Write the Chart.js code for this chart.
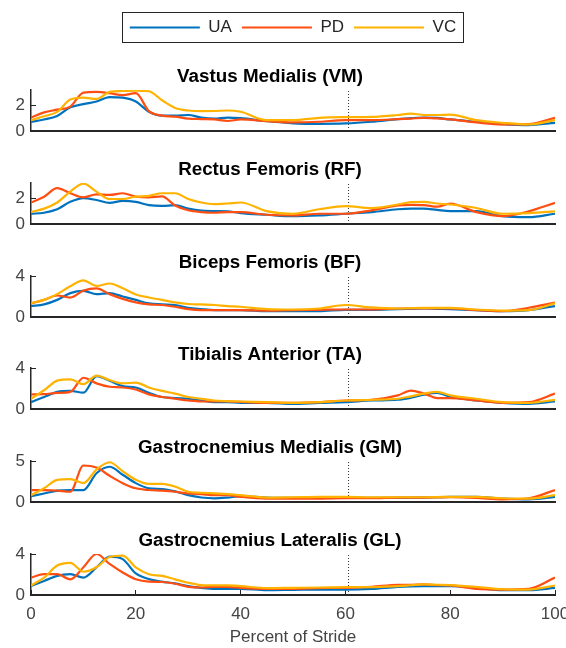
<!DOCTYPE html>
<html>
<head>
<meta charset="utf-8">
<script src="https://cdn.jsdelivr.net/npm/chart.js@4.4.1/dist/chart.umd.min.js"></script>
<style>
    html, body { margin: 0; padding: 0; background: #fff; }
    body { width: 566px; height: 648px; position: relative; overflow: hidden; }
    .box { position: absolute; }
</style>
</head>
<body>
<div class="box" style="left:31px;top:0;width:524px;height:60px"><canvas id="legend"></canvas></div>
<script>
// Percent of stride sample points
const stride = [0, 2.5, 5, 7.5, 10, 12.5, 15, 17.5, 20, 22.5, 25, 27.5, 30, 32.5, 35, 37.5, 40,
                45, 50, 55, 60, 65, 70, 72.5, 75, 77.5, 80, 85, 90, 95, 100];
const series = ['UA', 'PD', 'VC'];
const muscles = ['Vastus Medialis (VM)', 'Rectus Femoris (RF)', 'Biceps Femoris (BF)',
                 'Tibialis Anterior (TA)', 'Gastrocnemius Medialis (GM)', 'Gastrocnemius Lateralis (GL)'];
const yMax = [3.2, 3.2, 4, 4, 5, 4];
const yTicks = [[0, 2], [0, 2], [0, 2, 4], [0, 2, 4], [0, 5], [0, 2, 4]];
const xTicks = [0, 20, 40, 60, 80, 100];
const toeOff = 60.6;

const vmUA = [0.72,0.9,1.18,1.85,2.1,2.3,2.65,2.6,2.3,1.5,1.2,1.2,1.25,1.05,0.97,1.05,1.0,0.77,0.6,0.56,0.59,0.72,0.92,1.0,1.05,1.02,0.9,0.72,0.54,0.46,0.64];
const vmPD = [1.05,1.45,1.67,1.9,3.0,3.05,2.95,2.8,2.95,1.55,1.2,1.12,0.97,0.93,0.9,0.78,0.9,0.77,0.67,0.72,0.85,0.85,0.92,0.97,1.03,0.98,0.9,0.67,0.51,0.54,1.03];
const vmVC = [0.85,1.15,1.49,2.45,2.6,2.5,3.05,3.12,3.15,3.1,2.4,1.8,1.6,1.55,1.56,1.6,1.5,0.85,0.85,1.03,1.08,1.1,1.25,1.36,1.25,1.25,1.28,0.85,0.64,0.51,0.85];

const rfUA = [0.8,0.88,1.15,1.73,2.02,1.87,1.65,1.81,1.73,1.47,1.41,1.47,1.2,1.04,1.01,0.99,0.85,0.72,0.61,0.67,0.8,0.93,1.15,1.2,1.2,1.1,1.01,1.01,0.61,0.53,0.8];
const rfPD = [1.68,2.13,2.8,2.4,2.08,2.32,2.27,2.4,2.13,2.08,2.15,1.45,1.07,0.93,0.88,0.93,0.93,0.72,0.67,0.8,0.8,1.07,1.45,1.5,1.48,1.35,1.6,0.93,0.61,0.99,1.65];
const rfVC = [0.93,1.2,1.68,2.53,3.15,2.53,1.95,1.95,2.13,2.2,2.4,2.4,1.95,1.68,1.55,1.6,1.68,1.0,0.8,1.15,1.39,1.25,1.52,1.7,1.73,1.6,1.52,1.25,0.8,0.85,0.99];

const bfUA = [1.07,1.23,1.67,2.33,2.55,2.23,2.33,2.0,1.67,1.33,1.23,1.17,0.9,0.77,0.67,0.67,0.67,0.57,0.57,0.57,0.7,0.7,0.77,0.8,0.83,0.8,0.77,0.67,0.57,0.67,1.07];
const bfPD = [1.33,1.67,2.1,1.9,2.57,2.8,2.23,1.77,1.43,1.23,1.17,1.0,0.77,0.67,0.67,0.67,0.67,0.63,0.67,0.7,0.73,0.73,0.83,0.83,0.83,0.83,0.83,0.67,0.57,0.9,1.4];
const bfVC = [1.33,1.67,2.23,3.0,3.57,3.03,3.27,2.8,2.2,1.9,1.67,1.43,1.27,1.23,1.17,1.07,1.0,0.77,0.73,0.83,1.17,0.93,0.83,0.87,0.9,0.9,0.9,0.73,0.63,0.67,1.33];

const taUA = [0.67,1.17,1.67,1.77,1.6,3.2,2.75,2.23,2.1,1.57,1.17,1.07,1.0,0.83,0.67,0.67,0.6,0.6,0.5,0.6,0.67,0.83,0.9,1.1,1.4,1.57,1.2,0.83,0.6,0.5,0.73];
const taPD = [1.43,1.45,1.57,1.67,3.05,2.5,2.17,2.1,1.9,1.43,1.17,1.0,0.83,0.73,0.73,0.73,0.7,0.6,0.6,0.67,0.83,0.9,1.33,1.8,1.5,1.07,1.07,0.83,0.6,0.67,1.5];
const taVC = [1.0,1.83,2.77,2.9,2.43,3.25,2.83,2.5,2.57,2.1,1.77,1.5,1.17,1.0,0.83,0.77,0.73,0.67,0.6,0.67,0.83,0.9,1.0,1.23,1.5,1.67,1.33,1.0,0.67,0.6,0.9];

const gmUA = [0.7,1.04,1.38,1.46,1.45,3.5,4.3,3.33,2.3,1.67,1.58,1.3,0.83,0.55,0.45,0.54,0.7,0.54,0.5,0.5,0.54,0.5,0.5,0.52,0.54,0.58,0.63,0.63,0.42,0.33,0.63];
const gmPD = [1.46,1.46,1.38,1.25,4.45,4.2,3.2,2.3,1.67,1.46,1.38,1.25,1.04,0.96,0.83,0.83,0.63,0.42,0.42,0.42,0.46,0.46,0.54,0.54,0.54,0.56,0.58,0.5,0.33,0.46,1.46];
const gmVC = [0.83,1.67,2.7,2.8,2.3,3.96,4.85,3.75,2.7,2.2,2.2,1.88,1.25,1.13,1.04,0.96,0.83,0.54,0.58,0.63,0.63,0.58,0.58,0.58,0.58,0.6,0.63,0.63,0.46,0.42,0.83];

const glUA = [0.87,1.37,1.87,2.03,1.7,2.7,3.75,3.5,2.1,1.55,1.3,1.13,0.87,0.7,0.6,0.6,0.6,0.47,0.5,0.53,0.53,0.6,0.8,0.85,0.87,0.87,0.87,0.7,0.47,0.47,0.7];
const glPD = [1.7,2.03,2.03,1.53,2.7,4.0,3.03,2.2,1.53,1.3,1.27,1.1,0.8,0.73,0.8,0.8,0.7,0.6,0.6,0.67,0.7,0.8,1.0,1.0,1.03,0.97,0.93,0.6,0.53,0.6,1.7];
const glVC = [0.93,1.7,2.87,3.13,2.27,2.7,3.7,3.85,2.7,2.03,1.87,1.53,1.2,0.97,0.93,0.93,0.87,0.67,0.7,0.73,0.77,0.77,0.87,0.95,1.03,1.0,0.97,0.8,0.57,0.53,0.93];

const panelData = [
    [vmUA, vmPD, vmVC], [rfUA, rfPD, rfVC], [bfUA, bfPD, bfVC],
    [taUA, taPD, taVC], [gmUA, gmPD, gmVC], [glUA, glPD, glVC]
];

const FONT = "'Liberation Sans', Arial, sans-serif";
const colors = ['#0072BD', '#FF4E12', '#FFB300'];
const axisColor = '#262626';
const tickColor = '#444444';

// layout of the stacked panels (page pixels)
const plotTops = [90, 183, 276, 368, 461, 554];
const PLOT_H = 41;
const TITLE_H = 24;

// box around the legend, like the figure legend
const legendFrame = {
    id: 'legendFrame',
    afterDraw(chart) {
        const boxes = chart.legend.legendHitBoxes;
        if (!boxes || !boxes.length) return;
        const l = Math.min(...boxes.map(b => b.left));
        const r = Math.max(...boxes.map(b => b.left + b.width));
        const t = Math.min(...boxes.map(b => b.top));
        const btm = Math.max(...boxes.map(b => b.top + b.height));
        const ctx = chart.ctx;
        ctx.save();
        ctx.strokeStyle = axisColor;
        ctx.lineWidth = 1;
        ctx.strokeRect(Math.round(l - 8) + 0.5, Math.round(t - 7) + 0.5, Math.round(r - l + 15), Math.round(btm - t + 13));
        ctx.restore();
    }
};

new Chart(document.getElementById('legend'), {
    type: 'line',
    data: {
        datasets: series.map((s, k) => ({
            label: s, data: [], borderColor: colors[k], backgroundColor: colors[k], borderWidth: 2
        }))
    },
    options: {
        responsive: true,
        maintainAspectRatio: false,
        animation: false,
        layout: { padding: { top: 9 } },
        scales: { x: { display: false }, y: { display: false } },
        plugins: {
            tooltip: { enabled: false },
            legend: {
                position: 'top',
                labels: {
                    usePointStyle: true,
                    pointStyle: 'line',
                    pointStyleWidth: 70,
                    boxHeight: 17,
                    padding: 10,
                    color: axisColor,
                    font: { family: FONT, size: 17, lineHeight: 1.2 }
                }
            }
        }
    },
    plugins: [legendFrame]
});

const makePanel = (i) => {
    const last = i === muscles.length - 1;
    const xH = last ? 55 : 10;
    const wrap = document.createElement('div');
    wrap.className = 'box';
    wrap.style.left = '-15px';
    wrap.style.top = (plotTops[i] - TITLE_H) + 'px';
    wrap.style.width = '585px';
    wrap.style.height = (TITLE_H + PLOT_H + xH) + 'px';
    const canvas = document.createElement('canvas');
    wrap.appendChild(canvas);
    document.body.appendChild(wrap);

    const datasets = panelData[i].map((vals, k) => ({
        label: series[k],
        data: stride.map((x, j) => ({ x: x, y: vals[j] })),
        borderColor: colors[k],
        borderWidth: 2.2,
        pointRadius: 0,
        fill: false,
        cubicInterpolationMode: 'monotone',
        order: 3 - k
    }));
    // dotted marker line
    datasets.push({
        label: 'marker',
        data: [{ x: toeOff, y: 0 }, { x: toeOff, y: yMax[i] }],
        borderColor: '#333333',
        borderWidth: 1,
        borderDash: [1, 2],
        pointRadius: 0,
        order: 5
    });

    new Chart(canvas, {
        type: 'line',
        data: { datasets: datasets },
        options: {
            responsive: true,
            maintainAspectRatio: false,
            animation: false,
            layout: { padding: { left: 0, right: 15, top: 0, bottom: 0 } },
            plugins: {
                legend: { display: false },
                tooltip: { enabled: false },
                title: {
                    display: true,
                    text: muscles[i],
                    color: '#000',
                    font: { family: FONT, size: 18.8, weight: 'bold', lineHeight: 1.2 },
                    padding: { top: 0, bottom: 1.44 }
                }
            },
            scales: {
                x: {
                    type: 'linear',
                    min: 0,
                    max: 100,
                    afterBuildTicks: s => { s.ticks = xTicks.map(v => ({ value: v })); },
                    afterFit: s => { s.height = xH; s.paddingLeft = 0; s.paddingRight = 0; },
                    border: { display: true, color: axisColor, width: 2 },
                    grid: { display: last, drawOnChartArea: false, tickLength: -5, color: axisColor, lineWidth: 1 },
                    ticks: {
                        display: last, padding: 14, color: tickColor, maxRotation: 0, autoSkip: false,
                        font: { family: FONT, size: 17 }
                    },
                    title: {
                        display: last, text: 'Percent of Stride', color: tickColor,
                        font: { family: FONT, size: 17 }, padding: { top: 0, bottom: 2 }
                    }
                },
                y: {
                    min: 0,
                    max: yMax[i],
                    afterBuildTicks: s => { s.ticks = yTicks[i].map(v => ({ value: v })); },
                    afterFit: s => { s.width = 46; s.paddingTop = 0; s.paddingBottom = 0; },
                    border: { display: true, color: axisColor, width: 1.5 },
                    grid: { drawOnChartArea: false, tickLength: -5, color: axisColor, lineWidth: 1 },
                    ticks: { padding: 11, color: tickColor, font: { family: FONT, size: 17 } }
                }
            }
        }
    });
};

muscles.forEach((m, i) => makePanel(i));
</script>
</body>
</html>
